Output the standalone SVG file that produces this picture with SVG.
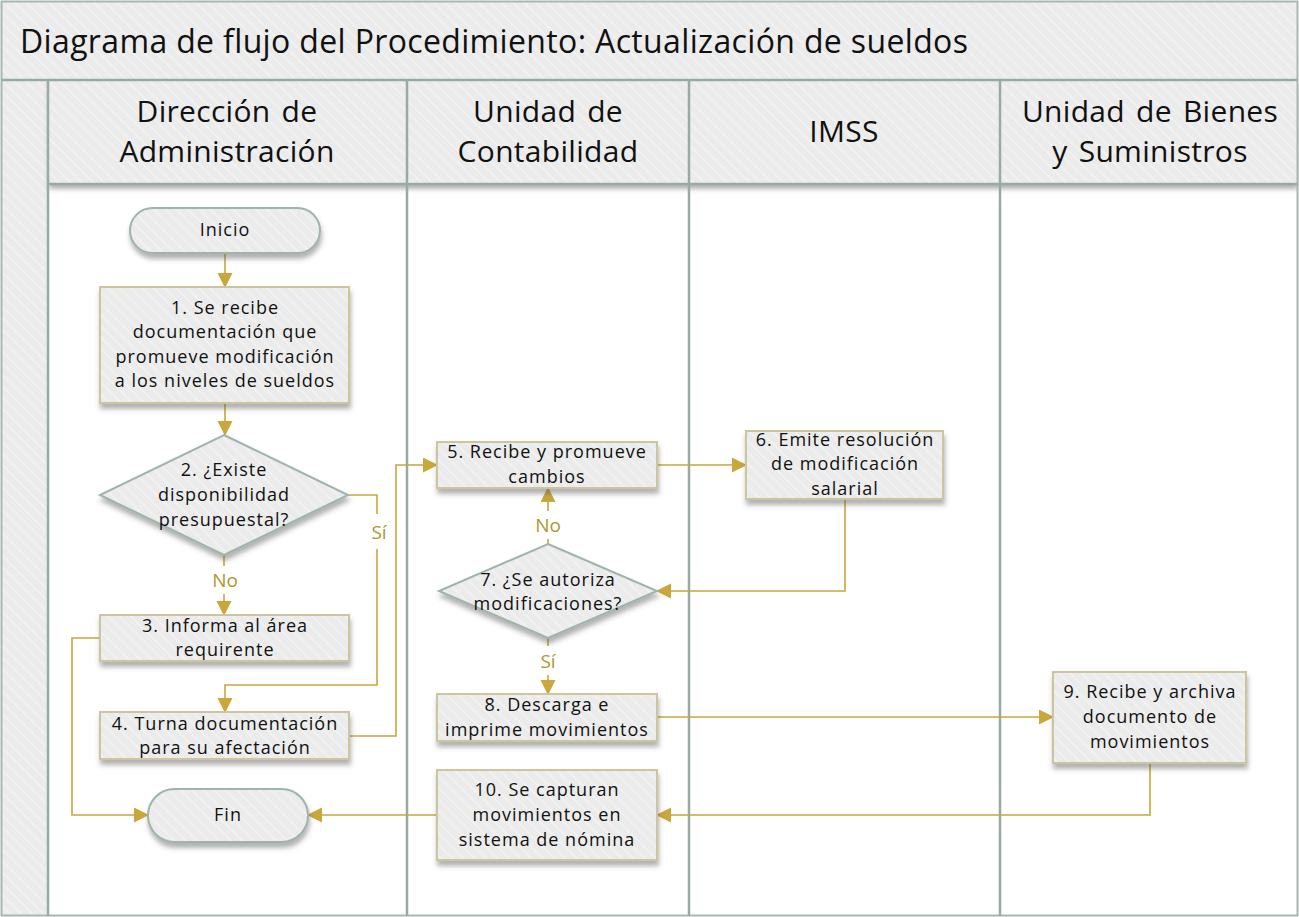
<svg xmlns="http://www.w3.org/2000/svg" width="1299" height="917" viewBox="0 0 1299 917">
<defs>
<pattern id="hatch" width="8" height="8" patternUnits="userSpaceOnUse" patternTransform="rotate(-45)">
<rect width="8" height="8" fill="#ebebeb"/>
<rect width="1.6" height="8" fill="#f3f3f3"/>
</pattern>
<filter id="sh" x="-10%" y="-10%" width="120%" height="140%">
<feDropShadow dx="1" dy="5" stdDeviation="2.5" flood-color="#555" flood-opacity="0.45"/>
</filter>
<marker id="arr" markerUnits="userSpaceOnUse" markerWidth="16" markerHeight="16" refX="14" refY="7.5" orient="auto">
<path d="M0,0 L15,7.5 L0,15 z" fill="#c9a73a"/>
</marker>
<style>
.t{font-family:"Open Sans","Noto Sans",sans-serif;font-size:18px;letter-spacing:1px;fill:#111;text-anchor:middle}
.h{font-family:"Open Sans","Noto Sans",sans-serif;font-size:30px;letter-spacing:0.3px;word-spacing:3px;fill:#111;text-anchor:middle}
.lbl{font-family:"Open Sans","Noto Sans",sans-serif;font-size:19px;fill:#b1952f;text-anchor:middle}
.proc{fill:url(#hatch);stroke:#cdc5a0;stroke-width:2;filter:url(#sh)}
.term{fill:url(#hatch);stroke:#9fb4aa;stroke-width:2;filter:url(#sh)}
.lane{stroke:#98aba3;stroke-width:2.5;fill:none}
.c{fill:none;stroke:#c9a73a;stroke-width:1.6}
</style>
</defs>
<rect x="0" y="0" width="1299" height="917" fill="#ffffff"/>
<g id="frame">
<rect x="2" y="2" width="1295" height="78" fill="url(#hatch)"/>
<rect x="2" y="80" width="46" height="836" fill="url(#hatch)"/>
<rect x="48" y="80" width="1249" height="104" fill="url(#hatch)" filter="url(#sh)"/>
<rect x="1.5" y="1.5" width="1296" height="914" fill="none" stroke="#a6b8b0" stroke-width="2"/>
<line class="lane" x1="2" y1="80" x2="1297" y2="80"/>
<line class="lane" x1="48" y1="184" x2="1297" y2="184"/>
<line class="lane" x1="48" y1="80" x2="48" y2="916"/>
<line class="lane" x1="407" y1="80" x2="407" y2="916"/>
<line class="lane" x1="689" y1="80" x2="689" y2="916"/>
<line class="lane" x1="1000" y1="80" x2="1000" y2="916"/>
<text x="20" y="53" font-family="Open Sans, Noto Sans, sans-serif" font-size="32" letter-spacing="0.35" fill="#111">Diagrama de flujo del Procedimiento: Actualización de sueldos</text>
<text class="h" x="227" y="122">Dirección de</text>
<text class="h" x="227" y="162">Administración</text>
<text class="h" x="548" y="122">Unidad de</text>
<text class="h" x="548" y="162">Contabilidad</text>
<text class="h" x="844" y="142">IMSS</text>
<text class="h" x="1150" y="122">Unidad de Bienes</text>
<text class="h" x="1150" y="162">y Suministros</text>
</g>
<g id="connectors">
<path class="c" d="M225,253 V287" marker-end="url(#arr)"/>
<path class="c" d="M225,403 V435" marker-end="url(#arr)"/>
<path class="c" d="M224,555 V566"/>
<path class="c" d="M224,594 V615" marker-end="url(#arr)"/>
<path class="c" d="M348,495 H377 V514"/>
<path class="c" d="M377,549 V685 H225 V712" marker-end="url(#arr)"/>
<path class="c" d="M100,638 H72 V815 H148" marker-end="url(#arr)"/>
<path class="c" d="M349,736 H396 V465 H437" marker-end="url(#arr)"/>
<path class="c" d="M657,465 H746" marker-end="url(#arr)"/>
<path class="c" d="M845,499 V591 H657" marker-end="url(#arr)"/>
<path class="c" d="M548,544 V539"/>
<path class="c" d="M548,511 V488" marker-end="url(#arr)"/>
<path class="c" d="M548,638 V646"/>
<path class="c" d="M548,675 V694" marker-end="url(#arr)"/>
<path class="c" d="M657,717 H1053" marker-end="url(#arr)"/>
<path class="c" d="M1150,763 V815 H657" marker-end="url(#arr)"/>
<path class="c" d="M437,815 H308" marker-end="url(#arr)"/>
<text class="lbl" x="225" y="587">No</text>
<text class="lbl" x="379" y="539">Sí</text>
<text class="lbl" x="548" y="532">No</text>
<text class="lbl" x="548" y="668">Sí</text>
</g>
<g id="inicio">
<rect class="term" x="130" y="208" width="190" height="45" rx="22.5"/>
<text class="t" x="225" y="236">Inicio</text>
</g>
<g id="n1">
<rect class="proc" x="100" y="287" width="249" height="116"/>
<text class="t" x="225" y="314">1. Se recibe</text>
<text class="t" x="225" y="338">documentación que</text>
<text class="t" x="225" y="363">promueve modificación</text>
<text class="t" x="225" y="387">a los niveles de sueldos</text>
</g>
<g id="n2">
<polygon class="term" points="224,435 348,495 224,555 100,495"/>
<text class="t" x="224" y="476">2. ¿Existe</text>
<text class="t" x="224" y="501">disponibilidad</text>
<text class="t" x="224" y="526">presupuestal?</text>
</g>
<g id="n3">
<rect class="proc" x="100" y="615" width="249" height="46"/>
<text class="t" x="225" y="632">3. Informa al área</text>
<text class="t" x="225" y="656">requirente</text>
</g>
<g id="n4">
<rect class="proc" x="100" y="712" width="249" height="47"/>
<text class="t" x="225" y="730">4. Turna documentación</text>
<text class="t" x="225" y="754">para su afectación</text>
</g>
<g id="n5">
<rect class="proc" x="437" y="442" width="220" height="46"/>
<text class="t" x="547" y="458">5. Recibe y promueve</text>
<text class="t" x="547" y="483">cambios</text>
</g>
<g id="n6">
<rect class="proc" x="746" y="431" width="197" height="68"/>
<text class="t" x="845" y="446">6. Emite resolución</text>
<text class="t" x="845" y="470">de modificación</text>
<text class="t" x="845" y="495">salarial</text>
</g>
<g id="n7">
<polygon class="term" points="548,544 657,591 548,638 439,591"/>
<text class="t" x="548" y="586">7. ¿Se autoriza</text>
<text class="t" x="548" y="610">modificaciones?</text>
</g>
<g id="n8">
<rect class="proc" x="437" y="694" width="220" height="47"/>
<text class="t" x="547" y="711">8. Descarga e</text>
<text class="t" x="547" y="736">imprime movimientos</text>
</g>
<g id="n9">
<rect class="proc" x="1053" y="672" width="193" height="91"/>
<text class="t" x="1150" y="698">9. Recibe y archiva</text>
<text class="t" x="1150" y="723">documento de</text>
<text class="t" x="1150" y="748">movimientos</text>
</g>
<g id="n10">
<rect class="proc" x="437" y="770" width="220" height="90"/>
<text class="t" x="547" y="796">10. Se capturan</text>
<text class="t" x="547" y="821">movimientos en</text>
<text class="t" x="547" y="846">sistema de nómina</text>
</g>
<g id="fin">
<rect class="term" x="148" y="789" width="160" height="53" rx="26.5"/>
<text class="t" x="228" y="821">Fin</text>
</g>
</svg>
